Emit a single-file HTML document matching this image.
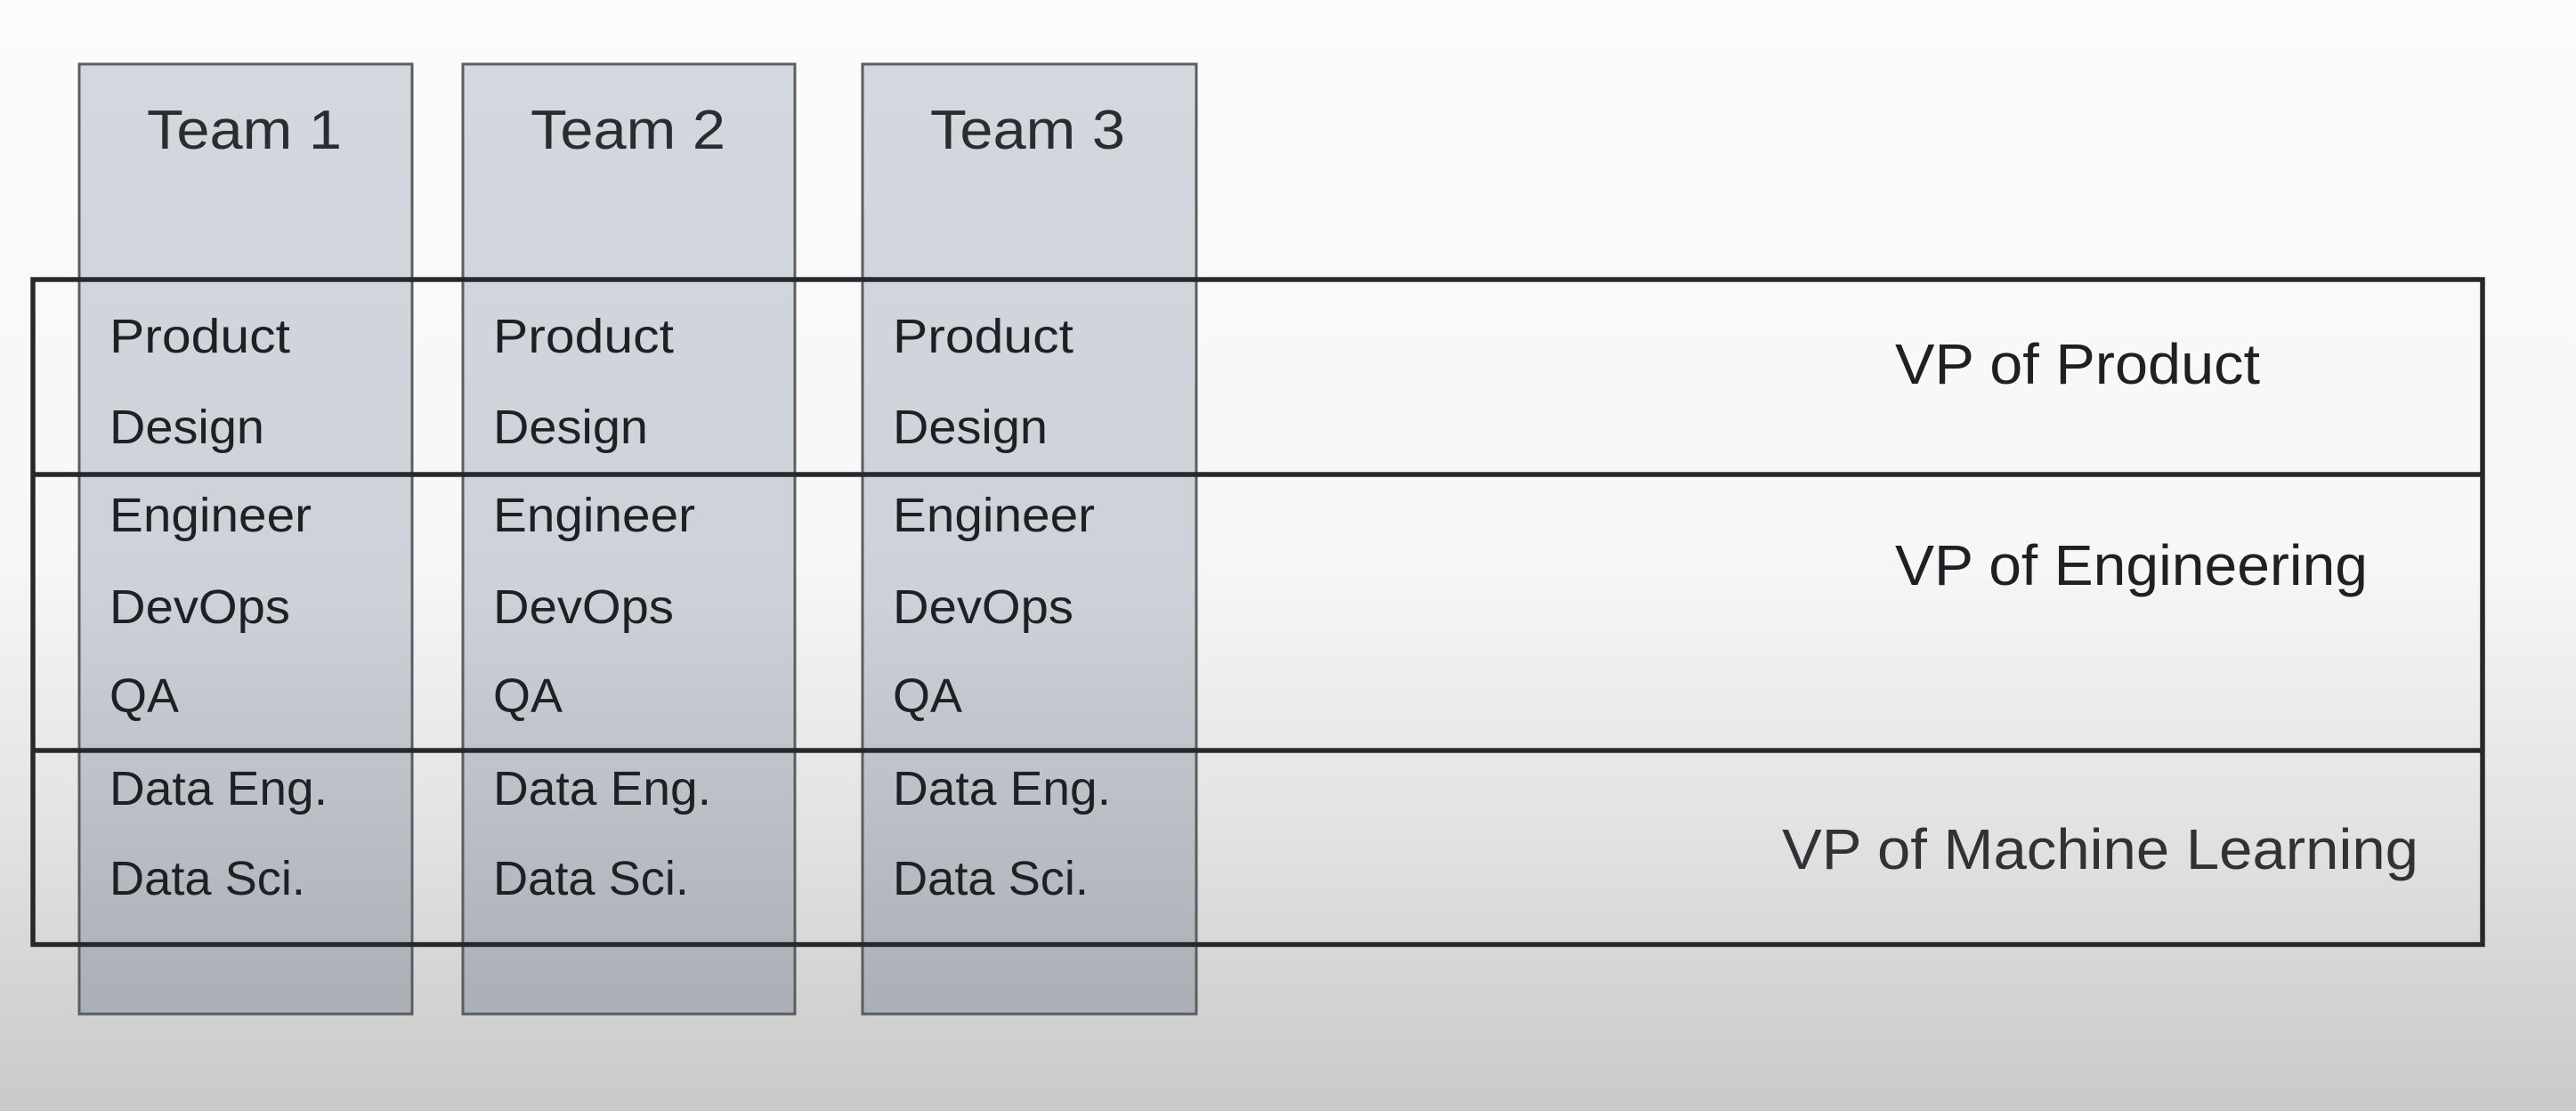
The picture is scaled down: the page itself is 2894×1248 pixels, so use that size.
<!DOCTYPE html>
<html><head><meta charset="utf-8"><style>
html,body{margin:0;padding:0;}
body{width:2894px;height:1248px;overflow:hidden;}
</style></head><body>
<svg width="2894" height="1248" xmlns="http://www.w3.org/2000/svg" style="display:block">
<defs>
<linearGradient id="bg" x1="0" y1="0" x2="0" y2="1">
<stop offset="0" stop-color="#fbfbfb"/>
<stop offset="0.5" stop-color="#f7f7f7"/>
<stop offset="0.75" stop-color="#e2e2e2"/>
<stop offset="1" stop-color="#c9c9c9"/>
</linearGradient>
<linearGradient id="col" x1="0" y1="0" x2="0" y2="1">
<stop offset="0" stop-color="#d3d8df"/>
<stop offset="0.55" stop-color="#cdd2d9"/>
<stop offset="1" stop-color="#aaafb6"/>
</linearGradient>
</defs>
<rect width="2894" height="1248" fill="url(#bg)"/>
<g fill="url(#col)" stroke="#5a5e63" stroke-width="3">
<rect x="89" y="72" width="374" height="1067"/>
<rect x="520" y="72" width="373" height="1067"/>
<rect x="969" y="72" width="375" height="1067"/>
</g>
<g stroke="#25292c" stroke-width="5.5" fill="none">
<rect x="37" y="314" width="2752" height="747"/>
<line x1="37" y1="533" x2="2789" y2="533"/>
<line x1="37" y1="843" x2="2789" y2="843"/>
</g>
<g font-family="Liberation Sans, sans-serif" fill="#2a2d30" font-size="62" lengthAdjust="spacingAndGlyphs">
<text x="165" y="167" textLength="219" lengthAdjust="spacingAndGlyphs">Team 1</text>
<text x="596" y="167" textLength="219" lengthAdjust="spacingAndGlyphs">Team 2</text>
<text x="1045" y="167" textLength="219" lengthAdjust="spacingAndGlyphs">Team 3</text>
</g>
<g font-family="Liberation Sans, sans-serif" fill="#1e2023" font-size="54">
<g id="c1">
<text x="123" y="396" textLength="203" lengthAdjust="spacingAndGlyphs">Product</text>
<text x="123" y="498" textLength="174" lengthAdjust="spacingAndGlyphs">Design</text>
<text x="123" y="597" textLength="227" lengthAdjust="spacingAndGlyphs">Engineer</text>
<text x="123" y="700" textLength="203" lengthAdjust="spacingAndGlyphs">DevOps</text>
<text x="123" y="800" textLength="78" lengthAdjust="spacingAndGlyphs">QA</text>
<text x="123" y="904" textLength="245" lengthAdjust="spacingAndGlyphs">Data Eng.</text>
<text x="123" y="1005" textLength="220" lengthAdjust="spacingAndGlyphs">Data Sci.</text>
</g>
<use href="#c1" x="431"/>
<use href="#c1" x="880"/>
</g>
<g font-family="Liberation Sans, sans-serif" fill="#1e2023" font-size="64">
<text x="2129" y="431" textLength="410" lengthAdjust="spacingAndGlyphs">VP of Product</text>
<text x="2129" y="657" textLength="531" lengthAdjust="spacingAndGlyphs">VP of Engineering</text>
<text x="2002" y="976" textLength="715" lengthAdjust="spacingAndGlyphs" fill="#303336">VP of Machine Learning</text>
</g>
</svg>
</body></html>
